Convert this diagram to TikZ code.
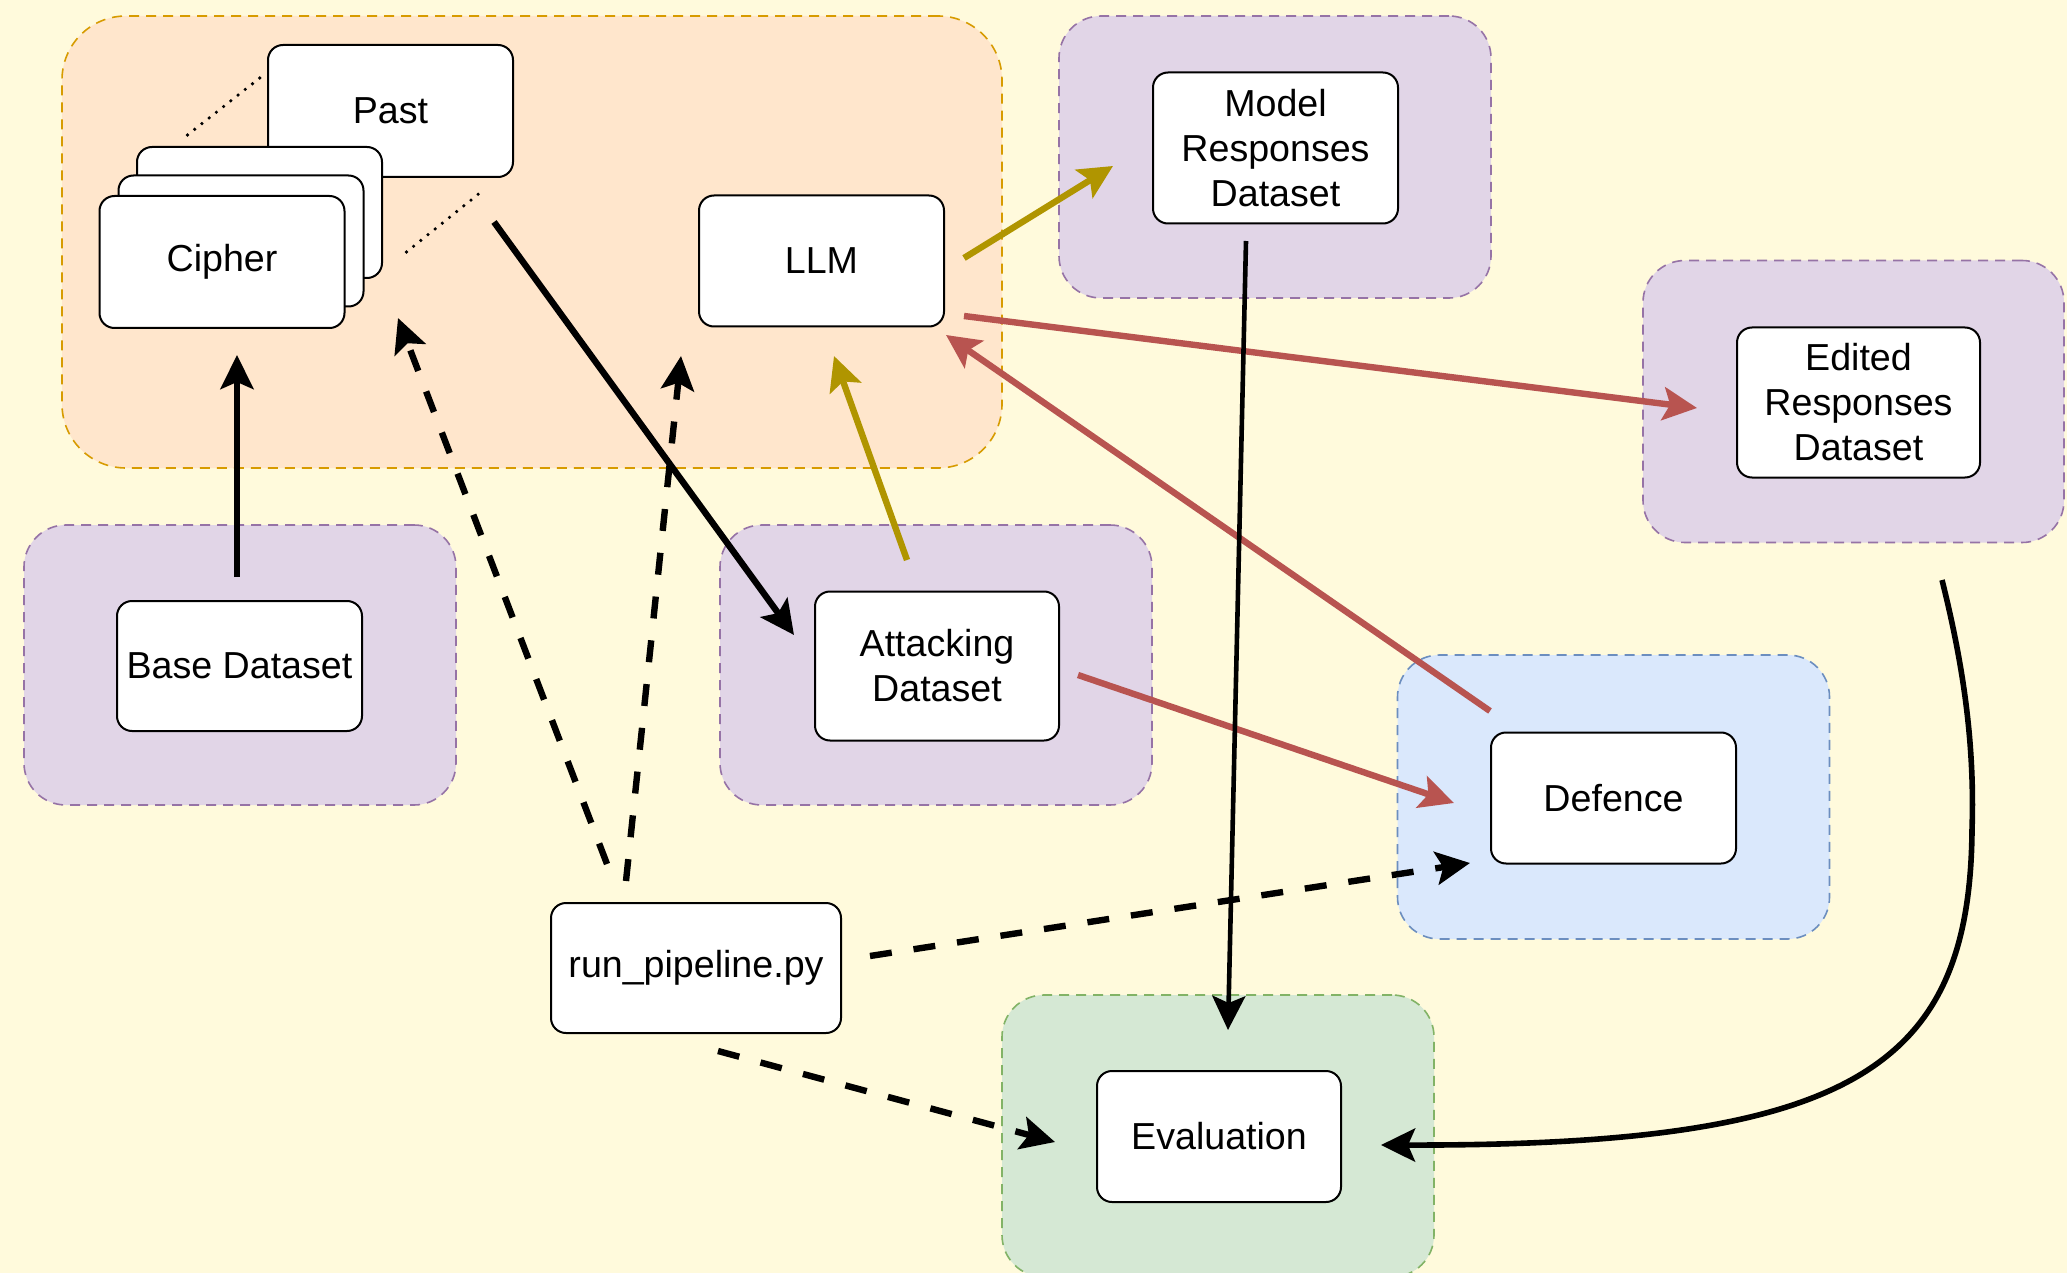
\documentclass[tikz,border=0pt]{standalone}
\usepackage{fontspec}
\setmainfont{Liberation Sans}
\usetikzlibrary{arrows.meta}

\definecolor{bg}{HTML}{FFFADC}
\definecolor{orfill}{HTML}{FFE6CC}
\definecolor{orline}{HTML}{D79B00}
\definecolor{pufill}{HTML}{E1D5E7}
\definecolor{puline}{HTML}{9673A6}
\definecolor{blfill}{HTML}{DAE8FC}
\definecolor{blline}{HTML}{6C8EBF}
\definecolor{grfill}{HTML}{D5E8D4}
\definecolor{grline}{HTML}{82B366}
\definecolor{goldl}{HTML}{B09500}
\definecolor{redl}{HTML}{B85450}

\tikzset{
  grp/.style={line width=0.8pt, dash pattern=on 5pt off 3.5pt, rounded corners=21pt,
    inner sep=0pt, outer sep=0pt, minimum width=216pt, minimum height=141pt},
  box/.style={draw=black, fill=white, line width=1pt, rounded corners=7.5pt,
    inner sep=0pt, outer sep=0pt, align=center, minimum width=122.5pt, minimum height=65.5pt,
    font=\fontsize{18.8}{22.5}\selectfont},
  tip/.style={-{Stealth[length=17pt, width=16.5pt, inset=3.5pt]}},
  conn/.style={tip, line width=3.2pt},
  dconn/.style={tip, line width=3.2pt, dash pattern=on 11pt off 11pt},
  dotl/.style={line width=1.8pt, line cap=round, dash pattern=on 0pt off 4.6pt},
}

\begin{document}
\begin{tikzpicture}[x=0.5pt, y=-0.5pt]
\clip (0,0) rectangle (2067,1273);
\fill[bg] (0,0) rectangle (2067,1273);

% groups
\node[grp, draw=orline, fill=orfill, minimum width=470pt, minimum height=226pt, rounded corners=32pt] (gOrange) at (532,242) {};
\node[grp, draw=puline, fill=pufill] (gModel) at (1275,157) {};
\node[grp, draw=puline, fill=pufill, minimum width=210.5pt] (gEdited) at (1853.5,401.5) {};
\node[grp, draw=puline, fill=pufill, minimum height=140pt] (gBase) at (240,665) {};
\node[grp, draw=puline, fill=pufill, minimum height=140pt] (gAttack) at (936,665) {};
\node[grp, draw=blline, fill=blfill, minimum height=142pt] (gDef) at (1613.5,797) {};
\node[grp, draw=grline, fill=grfill] (gEval) at (1218,1136) {};

% boxes
\node[box, minimum height=66pt] (past) at (390.5,111) {Past};
\node[box] (stack3) at (259.5,212.5) {};
\node[box] (stack2) at (241,241) {};
\node[box, minimum height=66pt] (cipher) at (222,262) {Cipher};
\node[box] (llm) at (821.5,261) {LLM};
\node[box, minimum height=75.5pt] (model) at (1275.5,148) {Model\\Responses\\Dataset};
\node[box, minimum width=121.5pt, minimum height=75pt] (edited) at (1858.5,402.5) {Edited\\Responses\\Dataset};
\node[box, minimum height=65pt] (base) at (239.5,666) {Base Dataset};
\node[box, minimum width=122pt, minimum height=74.5pt] (attack) at (937,666) {Attacking\\Dataset};
\node[box, minimum width=145pt, minimum height=65pt] (run) at (696,968) {run\_pipeline.py};
\node[box] (defence) at (1613.5,798) {Defence};
\node[box, minimum width=122pt] (eval) at (1219,1136.5) {Evaluation};

% dotted perspective lines
\coordinate (dA1) at (187.5,135);
\coordinate (dA2) at (261,77);
\coordinate (dB1) at (406.5,252);
\coordinate (dB2) at (481,192);
\draw[dotl] (dA1) -- (dA2);
\draw[dotl] (dB1) -- (dB2);

% connector end points
\coordinate (b1s) at (237,577);  \coordinate (b1e) at (237,355);
\coordinate (k2s) at (494,222);  \coordinate (k2e) at (794,635);
\coordinate (d3s) at (607,864);  \coordinate (d3e) at (398,318);
\coordinate (d4s) at (626,881);  \coordinate (d4e) at (681,356);
\coordinate (d5s) at (870,956);  \coordinate (d5e) at (1470,863);
\coordinate (d6s) at (718,1051); \coordinate (d6e) at (1055,1142);
\coordinate (g7s) at (907,560);  \coordinate (g7e) at (834,356);
\coordinate (g8s) at (964,258);  \coordinate (g8e) at (1113,166);
\coordinate (r9s) at (964,316);  \coordinate (r9e) at (1697,408);
\coordinate (r10s) at (1490,711); \coordinate (r10e) at (946,335);
\coordinate (r11s) at (1078,675); \coordinate (r11e) at (1454,803);
\coordinate (k12s) at (1246,241); \coordinate (k12e) at (1228,1030);
\coordinate (c13s) at (1942,580); \coordinate (c13m) at (1972,830); \coordinate (c13e) at (1381,1145);

% connectors
\draw[conn] (b1s) -- (b1e);
\draw[conn] (k2s) -- (k2e);
\draw[dconn] (d3s) -- (d3e);
\draw[dconn] (d4s) -- (d4e);
\draw[dconn] (d5s) -- (d5e);
\draw[dconn] (d6s) -- (d6e);
\draw[conn, goldl] (g7s) -- (g7e);
\draw[conn, goldl] (g8s) -- (g8e);
\draw[conn, redl] (r9s) -- (r9e);
\draw[conn, redl] (r10s) -- (r10e);
\draw[conn, redl] (r11s) -- (r11e);
\draw[conn, line width=2.3pt] (k12s) -- (k12e);
\draw[conn, line width=2.8pt] (c13s) .. controls (1962,660) and (1975,740) .. (c13m)
   .. controls (1970,1070) and (1850,1146) .. (c13e);
\end{tikzpicture}
\end{document}
